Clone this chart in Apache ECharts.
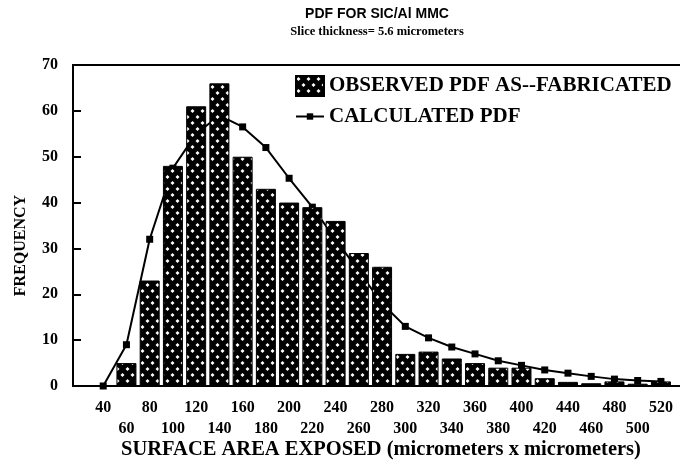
<!DOCTYPE html>
<html>
<head>
<meta charset="utf-8">
<script src="https://cdn.jsdelivr.net/npm/echarts@6/dist/echarts.min.js"></script>
<style>
  html, body { margin: 0; padding: 0; background: #fff; }
  #chart { width: 680px; height: 462px; }
</style>
</head>
<body>
<div id="chart"></div>
<script>
// surface area bins (micrometers x micrometers)
const sizes = [40, 60, 80, 100, 120, 140, 160, 180, 200, 220, 240, 260, 280, 300,
  320, 340, 360, 380, 400, 420, 440, 460, 480, 500, 520]
// observed frequency, as fabricated
const observed = [0, 5, 23, 48, 61, 66, 50, 43, 40, 39, 36, 29, 26, 7,
  7.5, 6, 5, 4, 4, 1.7, 0.9, 0.6, 1, 0.5, 1]
// calculated pdf
const calculated = [0, 9, 32, 47.5, 55, 59, 56.5, 52, 45.3, 39, 32, 25, 18, 13,
  10.5, 8.5, 7, 5.5, 4.5, 3.5, 2.8, 2.1, 1.5, 1.2, 1]

// tick labels are staggered on two rows
const ticksRow1 = sizes.filter((_, i) => i % 2 === 0)
const ticksRow2 = sizes.filter((_, i) => i % 2 === 1)

const serif = "'Liberation Serif', 'DejaVu Serif', serif"
const labelStyle = { fontFamily: serif, fontWeight: 'bold', fontSize: 16, color: '#000' }

function makePattern() {
  const c = document.createElement('canvas')
  c.width = 10
  c.height = 12
  const g = c.getContext('2d')
  g.fillStyle = '#000'
  g.fillRect(0, 0, 10, 12)
  g.fillStyle = '#fff'
  const dot = (x, y, r) => {
    g.beginPath()
    g.moveTo(x, y - r)
    g.lineTo(x + r, y)
    g.lineTo(x, y + r)
    g.lineTo(x - r, y)
    g.closePath()
    g.fill()
  }
  dot(2.5, 3, 2)
  dot(7.5, 9, 2)
  return c
}

const pattern = makePattern()
const chart = echarts.init(document.getElementById('chart'))

chart.setOption({
  backgroundColor: '#fff',
  animation: false,
  title: {
    text: 'PDF FOR SIC/Al MMC',
    subtext: 'Slice thickness= 5.6 micrometers',
    left: 372,
    top: 2,
    textAlign: 'center',
    itemGap: 4,
    textStyle: { fontFamily: "'Liberation Sans', Arial, sans-serif", fontWeight: 'bold', fontSize: 14, color: '#000' },
    subtextStyle: { fontFamily: serif, fontWeight: 'bold', fontSize: 12.5, color: '#000' },
  },
  legend: [
    {
      left: 295,
      top: 75,
      padding: 0,
      icon: 'rect',
      itemWidth: 28,
      itemHeight: 20,
      textStyle: { ...labelStyle, fontSize: 21 },
      data: ['OBSERVED PDF AS--FABRICATED'],
    },
    {
      left: 295,
      top: 106,
      padding: 0,
      itemWidth: 28,
      itemHeight: 8,
      textStyle: { ...labelStyle, fontSize: 21 },
      data: ['CALCULATED PDF'],
    },
  ],
  grid: {
    left: 73,
    right: -3,
    top: 65,
    bottom: 76,
    outerBoundsMode: 'none',
    show: true,
    borderColor: '#000',
    borderWidth: 2,
  },
  xAxis: [
    {
      type: 'value',
      min: 14,
      max: 539,
      name: 'SURFACE AREA EXPOSED (micrometers x micrometers)',
      nameLocation: 'middle',
      nameGap: 53,
      nameTextStyle: { ...labelStyle, fontSize: 20.5, padding: [0, 0, 0, 6] },
      axisLine: { lineStyle: { color: '#000', width: 2 } },
      axisTick: { show: false },
      splitLine: { show: false },
      axisLabel: { ...labelStyle, customValues: ticksRow1, margin: 14 },
    },
    {
      type: 'value',
      position: 'bottom',
      offset: 21,
      min: 14,
      max: 539,
      axisLine: { show: false },
      axisTick: { show: false },
      splitLine: { show: false },
      axisLabel: { ...labelStyle, customValues: ticksRow2, margin: 14 },
    },
  ],
  yAxis: {
    type: 'value',
    min: 0,
    max: 70,
    interval: 10,
    name: 'FREQUENCY',
    nameLocation: 'middle',
    nameGap: 44,
    nameTextStyle: { ...labelStyle, padding: [0, 40, 0, 0] },
    axisLine: { show: true, lineStyle: { color: '#000', width: 2 } },
    axisTick: { show: true, inside: true, length: 8, lineStyle: { color: '#000', width: 2 } },
    splitLine: { show: false },
    axisLabel: { ...labelStyle, margin: 15 },
  },
  series: [
    {
      name: 'CALCULATED PDF',
      type: 'line',
      z: 1,
      data: sizes.map((s, i) => [s, calculated[i]]),
      symbol: 'rect',
      symbolSize: 7,
      lineStyle: { color: '#000', width: 2 },
      itemStyle: { color: '#000' },
    },
    {
      name: 'OBSERVED PDF AS--FABRICATED',
      type: 'bar',
      z: 2,
      barWidth: 20,
      data: sizes.map((s, i) => [s, observed[i]]),
      itemStyle: { color: { image: pattern, repeat: 'repeat' }, borderColor: '#000', borderWidth: 1 },
    },
  ],
})
</script>
</body>
</html>
